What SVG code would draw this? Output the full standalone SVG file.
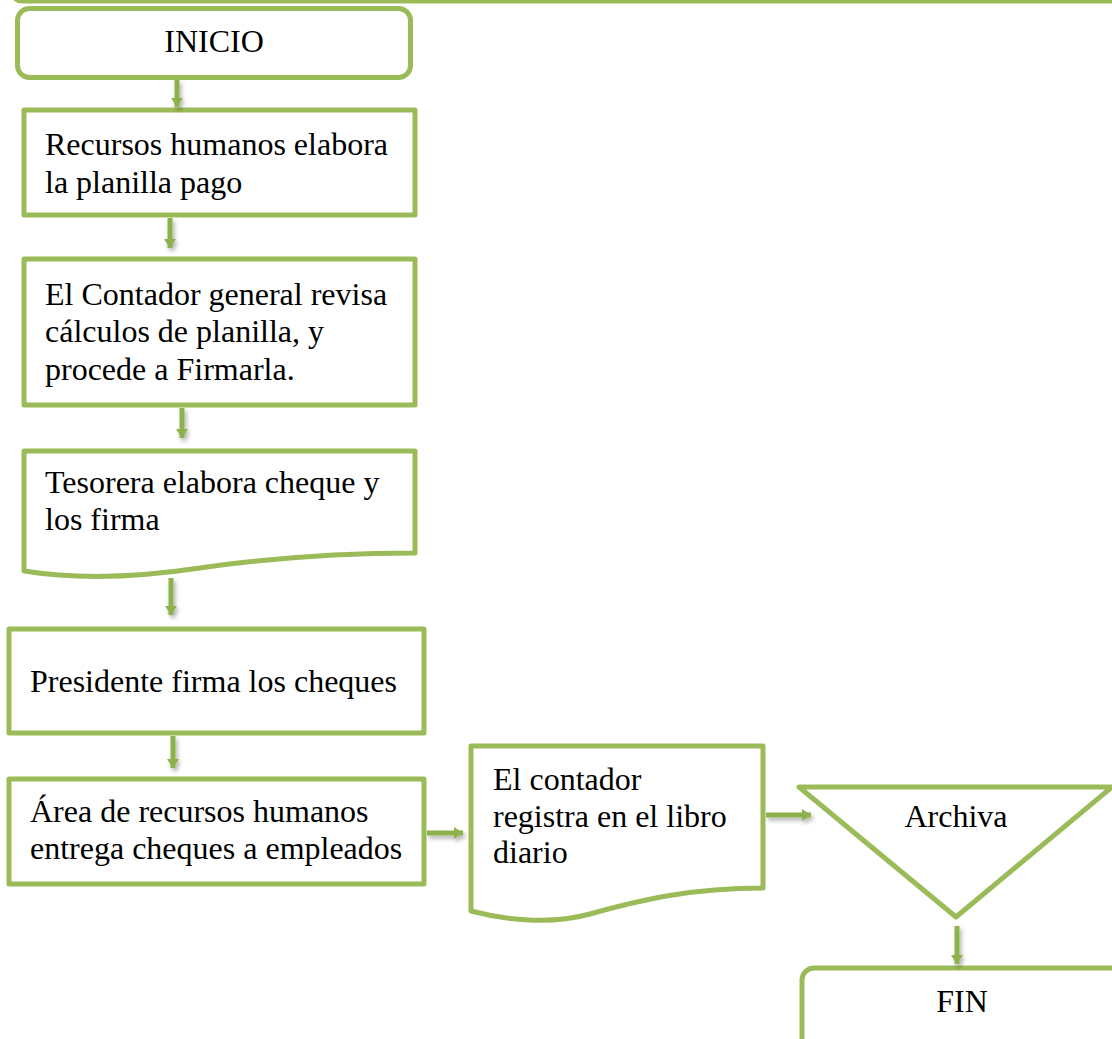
<svg xmlns="http://www.w3.org/2000/svg" width="1112" height="1039" viewBox="0 0 1112 1039">
  <style>
    .box { fill: #ffffff; stroke: #9BBB59; stroke-width: 5; stroke-linejoin: round; }
    .lbl { font-family: "Liberation Serif", "Times New Roman", serif; font-size: 32px; fill: #000000; }
    .mid { text-anchor: middle; }
    .arrow { stroke: #8DB24C; stroke-width: 5; fill: none; marker-end: url(#head); }
  </style>
  <defs>
    <marker id="head" markerUnits="userSpaceOnUse" markerWidth="14" markerHeight="14" viewBox="0 0 14 14" refX="9" refY="7" orient="auto">
      <path d="M0,1 L9,7 L0,13 Z" fill="#8DB24C"/>
    </marker>
    <filter id="shade" filterUnits="userSpaceOnUse" x="0" y="0" width="1112" height="1039">
      <feDropShadow dx="2" dy="3" stdDeviation="2" flood-color="#000000" flood-opacity="0.3"/>
    </filter>
  </defs>

  <!-- box cut off at the top edge -->
  <g id="top-box">
    <rect class="box" x="12" y="-60" width="1140" height="61" rx="10"/>
  </g>

  <g id="inicio">
    <rect class="box" x="17.5" y="8.5" width="393" height="69" rx="12"/>
    <text class="lbl mid" x="214" y="52">INICIO</text>
  </g>

  <g id="recursos">
    <rect class="box" x="24" y="110" width="391" height="105"/>
    <text class="lbl" x="45" y="155">Recursos humanos elabora</text>
    <text class="lbl" x="45" y="193">la planilla pago</text>
  </g>

  <g id="contador-general">
    <rect class="box" x="24" y="259" width="391" height="146"/>
    <text class="lbl" x="45" y="305">El Contador general revisa</text>
    <text class="lbl" x="45" y="342">cálculos de planilla, y</text>
    <text class="lbl" x="45" y="380">procede a Firmarla.</text>
  </g>

  <g id="tesorera">
    <path class="box" d="M24,451 L415,451 L415,553 C340,553 270,558 200,568 C140,577 80,580 24,571 Z"/>
    <text class="lbl" x="45" y="493">Tesorera elabora cheque y</text>
    <text class="lbl" x="45" y="530">los firma</text>
  </g>

  <g id="presidente">
    <rect class="box" x="9" y="629" width="415" height="104"/>
    <text class="lbl" x="30" y="692">Presidente firma los cheques</text>
  </g>

  <g id="area-rrhh">
    <rect class="box" x="9" y="779" width="415" height="105"/>
    <text class="lbl" x="30" y="822">Área de recursos humanos</text>
    <text class="lbl" x="30" y="859">entrega cheques a empleados</text>
  </g>

  <g id="contador-libro">
    <path class="box" d="M471,746 L763,746 L763,888 C690,888 640,900 590,914 C550,925 505,920 471,911 Z"/>
    <text class="lbl" x="493" y="790">El contador</text>
    <text class="lbl" x="493" y="827">registra en el libro</text>
    <text class="lbl" x="493" y="863">diario</text>
  </g>

  <g id="archiva">
    <path class="box" d="M799,787 L1112,787 L956,917 Z"/>
    <text class="lbl mid" x="956" y="827">Archiva</text>
  </g>

  <g id="fin">
    <rect class="box" x="802" y="968" width="360" height="120" rx="12"/>
    <text class="lbl mid" x="962" y="1012">FIN</text>
  </g>

  <g id="connectors" filter="url(#shade)">
    <line class="arrow" x1="177" y1="80" x2="177" y2="107"/>
    <line class="arrow" x1="170" y1="218" x2="170" y2="248"/>
    <line class="arrow" x1="182" y1="408" x2="182" y2="438"/>
    <line class="arrow" x1="171" y1="578" x2="171" y2="615"/>
    <line class="arrow" x1="173" y1="736" x2="173" y2="768"/>
    <line class="arrow" x1="427" y1="833" x2="463" y2="833"/>
    <line class="arrow" x1="766" y1="815" x2="811" y2="815"/>
    <line class="arrow" x1="957" y1="926" x2="957" y2="964"/>
  </g>
</svg>
